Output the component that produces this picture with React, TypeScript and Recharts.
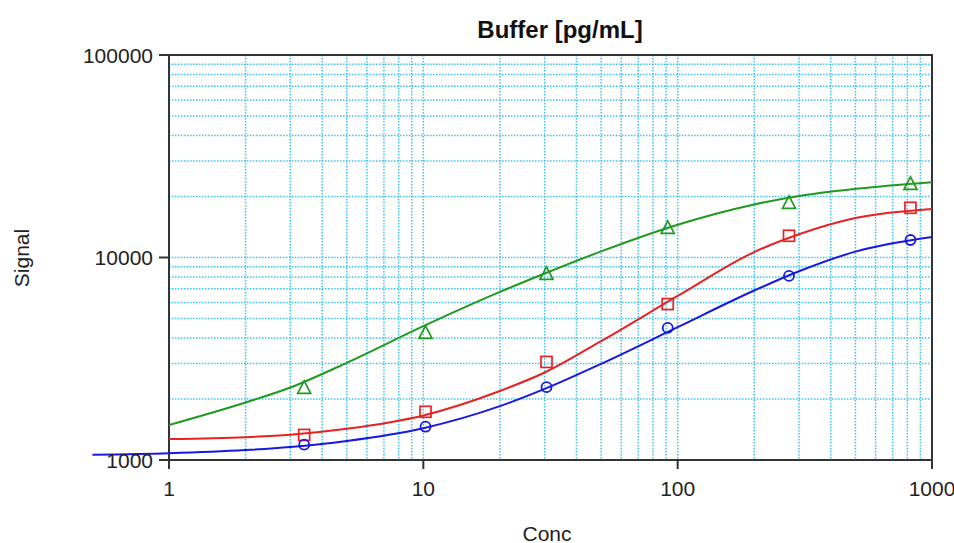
import React from 'react';
import { ComposedChart, Line, Scatter, XAxis, YAxis, CartesianGrid, ReferenceArea } from 'recharts';

const FONT = '"Liberation Sans", Arial, Helvetica, sans-serif';
const GRID = '#3cc4f0';
const GREEN = '#1f9a1f';
const RED = '#e62222';
const BLUE = '#1818e0';

// Standards (markers)
const standardConc = [3.4, 10.2, 30.5, 91.4, 274, 823];
const greenSignal = [2270, 4240, 8300, 14000, 18600, 23100];
const redSignal = [1330, 1730, 3050, 5890, 12800, 17600];
const blueSignal = [1190, 1460, 2290, 4490, 8110, 12200];

// Fitted curves
const fitConc = [1, 2, 3, 5, 10, 20, 30, 50, 100, 200, 300, 500, 1000];
const greenFit = [1489, 1923, 2280, 3020, 4581, 6761, 8337, 10720, 14520, 18280, 20140, 21830, 23550];
const redFit = [1270, 1297, 1334, 1426, 1660, 2193, 2704, 3864, 6457, 10640, 13030, 15670, 17380];
const blueFitConc = [0.5, 1, 2, 3, 5, 10, 20, 30, 50, 100, 200, 300, 500, 1000];
const blueFit = [1060, 1079, 1119, 1159, 1242, 1436, 1845, 2244, 2985, 4529, 6871, 8551, 10690, 12620];

// Axis ticks / grid
const xGridTicks = [1, 2, 3, 4, 5, 6, 7, 8, 9, 10, 20, 30, 40, 50, 60, 70, 80, 90, 100, 200, 300, 400, 500, 600, 700, 800, 900, 1000];
const yGridTicks = [1000, 2000, 3000, 4000, 5000, 6000, 7000, 8000, 9000, 10000, 20000, 30000, 40000, 50000, 60000, 70000, 80000, 90000, 100000];
const xMajorTicks = [1, 10, 100, 1000];
const xTickLabels = ['1', '10', '100', '1000'];
const yMajorTicks = [1000, 10000, 100000];
const yTickLabels = ['1000', '10000', '100000'];

const toPts = (xs: number[], ys: number[]) => xs.map((c, i) => ({ conc: c, signal: ys[i] }));

const greenCurve = toPts(fitConc, greenFit);
const redCurve = toPts(fitConc, redFit);
const blueCurve = toPts(blueFitConc, blueFit);
const greenPts = toPts(standardConc, greenSignal);
const redPts = toPts(standardConc, redSignal);
const bluePts = toPts(standardConc, blueSignal);

const TICK_FS = 21;

const XTick = (props: any) => {
  const { x, y, payload } = props;
  const idx = xMajorTicks.indexOf(payload.value);
  if (idx < 0) return null;
  return (
    <g>
      <line x1={x} x2={x} y1={y - 21} y2={y - 12} stroke="#333" strokeWidth={2} />
      <text x={x} y={y} dy="0.71em" textAnchor="middle" fontSize={TICK_FS} fontFamily={FONT} fill="#222">
        {xTickLabels[idx]}
      </text>
    </g>
  );
};

const YTick = (props: any) => {
  const { x, y, payload } = props;
  const idx = yMajorTicks.indexOf(payload.value);
  if (idx < 0) return null;
  return (
    <g>
      <line x1={x + 6} x2={x + 16} y1={y} y2={y} stroke="#333" strokeWidth={2} />
      <text x={x} y={y} dy="0.36em" textAnchor="end" fontSize={TICK_FS} fontFamily={FONT} fill="#222">
        {yTickLabels[idx]}
      </text>
    </g>
  );
};

const TriangleShape = (p: any) => {
  const { cx, cy } = p;
  return <path d={`M${cx},${cy - 7} L${cx + 6.5},${cy + 5.5} L${cx - 6.5},${cy + 5.5} Z`} fill="none" stroke={GREEN} strokeWidth={1.7} />;
};
const SquareShape = (p: any) => {
  const { cx, cy } = p;
  return <rect x={cx - 5.5} y={cy - 5.5} width={11} height={11} fill="none" stroke={RED} strokeWidth={1.7} />;
};
const CircleShape = (p: any) => {
  const { cx, cy } = p;
  return <circle cx={cx} cy={cy} r={5} fill="none" stroke={BLUE} strokeWidth={1.8} />;
};

export default function App() {
  return (
    <div style={{ position: 'relative', width: 954, height: 543, background: '#fff', fontFamily: FONT }}>
      <style>{'body{margin:0}.noclip,.noclip *{clip-path:none !important}'}</style>
      <ComposedChart width={954} height={543} margin={{ top: 55, right: 22, bottom: 33, left: 69 }}>
        <CartesianGrid stroke={GRID} strokeDasharray="1.5 1.5" strokeWidth={1.5} />
        <XAxis
          type="number"
          dataKey="conc"
          scale="log"
          domain={[1, 1000]}
          allowDataOverflow
          ticks={xGridTicks}
          interval={0}
          tick={XTick}
          tickLine={false}
          axisLine={false}
          height={50}
          tickSize={9}
          tickMargin={12}
        />
        <YAxis
          type="number"
          dataKey="signal"
          scale="log"
          domain={[1000, 100000]}
          allowDataOverflow
          ticks={yGridTicks}
          interval={0}
          tick={YTick}
          tickLine={false}
          axisLine={false}
          width={100}
          tickSize={10}
          tickMargin={6}
        />
        <ReferenceArea x1={1} x2={1000} y1={1000} y2={100000} fill="none" stroke="#333" strokeWidth={2} ifOverflow="visible" />
        <Line data={greenCurve} dataKey="signal" type="monotone" stroke={GREEN} strokeWidth={2} dot={false} isAnimationActive={false} />
        <Line data={redCurve} dataKey="signal" type="monotone" stroke={RED} strokeWidth={2} dot={false} isAnimationActive={false} />
        <Line className="noclip" data={blueCurve} dataKey="signal" type="monotone" stroke={BLUE} strokeWidth={2} dot={false} isAnimationActive={false} />
        <Scatter data={greenPts} dataKey="signal" shape={TriangleShape} isAnimationActive={false} />
        <Scatter data={redPts} dataKey="signal" shape={SquareShape} isAnimationActive={false} />
        <Scatter data={bluePts} dataKey="signal" shape={CircleShape} isAnimationActive={false} />
      </ComposedChart>
      <div style={{ position: 'absolute', left: 440, top: 18, width: 240, textAlign: 'center', fontSize: 24, lineHeight: '24px', fontWeight: 'bold', color: '#111' }}>
        Buffer [pg/mL]
      </div>
      <div style={{ position: 'absolute', left: 21, top: 258, transform: 'translate(-50%, -50%) rotate(-90deg)', fontSize: 21, lineHeight: '21px', color: '#222', whiteSpace: 'nowrap' }}>
        Signal
      </div>
      <div style={{ position: 'absolute', left: 547, top: 533, transform: 'translate(-50%, -50%)', fontSize: 21, lineHeight: '21px', color: '#222', whiteSpace: 'nowrap' }}>
        Conc
      </div>
    </div>
  );
}
